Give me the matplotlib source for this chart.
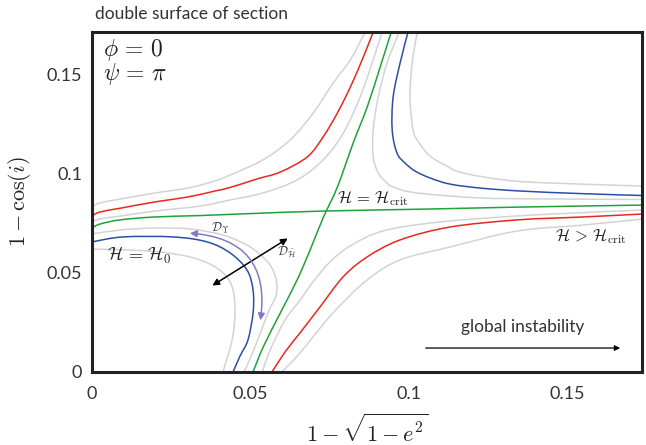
import numpy as np
import matplotlib
matplotlib.use("Agg")
import matplotlib.pyplot as plt
from matplotlib.patches import FancyArrowPatch, PathPatch
from matplotlib.path import Path

plt.rcParams['mathtext.fontset'] = 'cm'

# separatrices (H = H_crit)
sep_h_x = [0, 0.0025, 0.0088, 0.0199, 0.0341, 0.0499, 0.0735, 0.1067, 0.1351, 0.174]
sep_h_y = [0.0727, 0.0747, 0.0768, 0.0783, 0.0790, 0.0800, 0.0813, 0.0823, 0.0833, 0.0843]
sep_v_x = [0.0508, 0.054, 0.0594, 0.0647, 0.0688, 0.0729, 0.0774, 0.0824, 0.0868, 0.0909, 0.0944]
sep_v_y = [0, 0.0126, 0.0298, 0.0465, 0.0616, 0.0778, 0.0934, 0.1157, 0.1338, 0.154, 0.1717]

# upper left branch
tl_out_x = [0, 0.0025, 0.0092, 0.0199, 0.0303, 0.0388, 0.0436, 0.0539, 0.0625, 0.0698, 0.0761, 0.0815, 0.0862]
tl_out_y = [0.0833, 0.0854, 0.0874, 0.0904, 0.0929, 0.0965, 0.0995, 0.1071, 0.1172, 0.1308, 0.146, 0.1576, 0.1717]
tl_red_x = [0, 0.0025, 0.0092, 0.0199, 0.0303, 0.0388, 0.0436, 0.0521, 0.0594, 0.0679, 0.0729, 0.0774, 0.0815, 0.0856, 0.0887]
tl_red_y = [0.0788, 0.0808, 0.0828, 0.0859, 0.0884, 0.0914, 0.0932, 0.0975, 0.101, 0.1086, 0.1187, 0.1308, 0.1439, 0.1591, 0.1717]
tl_in_x = [0, 0.0025, 0.0092, 0.0199, 0.0341, 0.0436, 0.0539, 0.0647, 0.0729, 0.0793, 0.0846, 0.0887, 0.0915]
tl_in_y = [0.0758, 0.0773, 0.0788, 0.0813, 0.0838, 0.0869, 0.0904, 0.097, 0.1071, 0.1207, 0.1389, 0.1576, 0.1717]

# upper right branch
tr_in_x = [0.0969, 0.0931, 0.0903, 0.0887, 0.0887, 0.0903, 0.0924, 0.095, 0.1026, 0.1225, 0.1437, 0.174]
tr_in_y = [0.1717, 0.1561, 0.1389, 0.1222, 0.1086, 0.1005, 0.0965, 0.0934, 0.0904, 0.0879, 0.0874, 0.0871]
tr_blue_x = [0.0997, 0.0972, 0.095, 0.0947, 0.0962, 0.0987, 0.1019, 0.1066, 0.1129, 0.1224, 0.1351, 0.1541, 0.174]
tr_blue_y = [0.1717, 0.1561, 0.1389, 0.1222, 0.1106, 0.1056, 0.1015, 0.098, 0.0949, 0.0929, 0.0914, 0.0901, 0.0891]
tr_out_x = [0.1026, 0.101, 0.1003, 0.1013, 0.1032, 0.1066, 0.1114, 0.1171, 0.1329, 0.1541, 0.174]
tr_out_y = [0.1717, 0.1561, 0.1389, 0.1222, 0.1157, 0.1091, 0.1045, 0.1005, 0.0965, 0.0949, 0.0939]

# lower right branch
br_in_x = [0.0537, 0.0562, 0.0609, 0.0657, 0.0697, 0.0751, 0.0814, 0.0918, 0.1099, 0.1393, 0.174]
br_in_y = [0, 0.0111, 0.0263, 0.0364, 0.0455, 0.0556, 0.0636, 0.0712, 0.0758, 0.0793, 0.0818]
br_red_x = [0.0568, 0.0609, 0.0656, 0.0719, 0.0792, 0.0868, 0.0972, 0.1129, 0.1341, 0.1549, 0.174]
br_red_y = [0, 0.0101, 0.0197, 0.0328, 0.048, 0.0581, 0.0667, 0.0732, 0.0768, 0.0783, 0.0798]
br_out_x = [0.0599, 0.0656, 0.076, 0.0868, 0.0972, 0.1129, 0.1341, 0.1549, 0.174]
br_out_y = [0, 0.0096, 0.0298, 0.0465, 0.0566, 0.0631, 0.0712, 0.0742, 0.0773]

# lower left branch (bounded)
bl_in_x = [0, 0.0088, 0.0199, 0.031, 0.0413, 0.0483, 0.0521, 0.0562, 0.0581, 0.0581, 0.0555, 0.0514, 0.048]
bl_in_y = [0.0697, 0.0717, 0.0727, 0.0722, 0.0692, 0.0646, 0.0606, 0.054, 0.0465, 0.0389, 0.0298, 0.0126, 0]
bl_blue_x = [0, 0.0098, 0.0256, 0.0363, 0.0436, 0.0489, 0.0508, 0.0508, 0.0492, 0.0467, 0.0445]
bl_blue_y = [0.0657, 0.0682, 0.0682, 0.0657, 0.0601, 0.0515, 0.0414, 0.0298, 0.0162, 0.0081, 0]
bl_out_x = [0, 0.0117, 0.0215, 0.0309, 0.0372, 0.042, 0.0445, 0.0451, 0.0442, 0.0413]
bl_out_y = [0.0621, 0.0616, 0.0606, 0.0581, 0.0545, 0.049, 0.0414, 0.0298, 0.0162, 0]

ticks = [0, 0.05, 0.1, 0.15]
tick_labels = ['0', '0.05', '0.1', '0.15']

GRAY = '#d3d3d3'
RED = '#e8281e'
GREEN = '#1fa23a'
BLUE = '#2b4ea6'
PURPLE = '#8677c4'
TXT = '#333333'


def smooth_line(ax, xs, ys, color, lw=1.1):
    # draw the read points as a smooth bezier path (catmull-rom control points)
    p = np.column_stack([xs, ys])
    ext = np.vstack([p[0], p, p[-1]])
    verts = [tuple(p[0])]
    codes = [Path.MOVETO]
    for i in range(len(p) - 1):
        p0, p1, p2, p3 = ext[i], ext[i + 1], ext[i + 2], ext[i + 3]
        c1 = p1 + (p2 - p0) / 6.0
        c2 = p2 - (p3 - p1) / 6.0
        verts += [tuple(c1), tuple(c2), tuple(p2)]
        codes += [Path.CURVE4] * 3
    ax.add_patch(PathPatch(Path(verts, codes), fill=False, edgecolor=color, lw=lw,
                           capstyle='butt', joinstyle='round'))


fig = plt.figure(figsize=(6.46, 4.45), dpi=100)
ax = fig.add_axes([92/646, 73/445, 550/646, 340/445])

for xs, ys in [(tl_out_x, tl_out_y), (tl_in_x, tl_in_y), (tr_in_x, tr_in_y), (tr_out_x, tr_out_y),
               (br_in_x, br_in_y), (br_out_x, br_out_y), (bl_in_x, bl_in_y), (bl_out_x, bl_out_y)]:
    smooth_line(ax, xs, ys, GRAY)
smooth_line(ax, tl_red_x, tl_red_y, RED)
smooth_line(ax, br_red_x, br_red_y, RED)
smooth_line(ax, tr_blue_x, tr_blue_y, BLUE)
smooth_line(ax, bl_blue_x, bl_blue_y, BLUE)
smooth_line(ax, sep_h_x, sep_h_y, GREEN)
smooth_line(ax, sep_v_x, sep_v_y, GREEN)

ax.set_xlim(0, 0.1735)
ax.set_ylim(0, 0.1717)

# annotations
ax.text(0.0035, 0.1626, r'$\phi \,=\, 0$', fontsize=17, ha='left', va='center', color='#222222')
ax.text(0.0035, 0.1505, r'$\psi \,=\, \pi$', fontsize=17, ha='left', va='center', color='#222222')
ax.text(0.0773, 0.0877, r'$\mathcal{H} \,=\, \mathcal{H}_{\rm crit}$', fontsize=12, ha='left', va='center', color='#222222')
ax.text(0.146, 0.0682, r'$\mathcal{H} \,>\, \mathcal{H}_{\rm crit}$', fontsize=12, ha='left', va='center', color='#222222')
ax.text(0.0047, 0.0586, r'$\mathcal{H} \,=\, \mathcal{H}_0$', fontsize=13, ha='left', va='center', color='#222222')
ax.text(0.0404, 0.0727, r'$\mathcal{D}_\Upsilon$', fontsize=9, ha='center', va='center', color=TXT)
ax.text(0.0615, 0.0606, r'$\mathcal{D}_{\bar{\mathcal{H}}}$', fontsize=9, ha='center', va='center', color=TXT)

ax.add_patch(FancyArrowPatch((0.0372, 0.0429), (0.0625, 0.0682), arrowstyle='<|-|>',
                             mutation_scale=10, color='black', lw=1.1))
ax.add_patch(FancyArrowPatch((0.030, 0.0702), (0.053, 0.0247), arrowstyle='<|-|>',
                             connectionstyle='arc3,rad=-0.55', mutation_scale=10,
                             color=PURPLE, lw=1.1))

ax.text(0.136, 0.0227, 'global instability', fontsize=12.5, ha='center', va='center',
        family='Lato', color=TXT)
ax.add_patch(FancyArrowPatch((0.1044, 0.0121), (0.1675, 0.0121), arrowstyle='-|>',
                             mutation_scale=8, color='black', lw=0.9))

for sp in ax.spines.values():
    sp.set_linewidth(2.2)
    sp.set_color('#222222')

ax.set_xticks(ticks)
ax.set_xticklabels(tick_labels)
ax.set_yticks(ticks)
ax.set_yticklabels(tick_labels)
ax.tick_params(length=0, labelsize=13, colors=TXT, pad=7)
ax.tick_params(axis='x', pad=10)
for lab in ax.get_xticklabels() + ax.get_yticklabels():
    lab.set_family('Lato')

ax.set_xlabel(r'$1-\sqrt{1-e^2}$', fontsize=16, labelpad=8, color='#222222')
ax.set_ylabel(r'$1-\cos(i)$', fontsize=16, labelpad=10, color='#222222')

fig.text(95/646, 1 - 14/445, 'double surface of section', fontsize=12.5, family='Lato',
         ha='left', va='center', color=TXT)

fig.savefig('out.png', dpi=100)
